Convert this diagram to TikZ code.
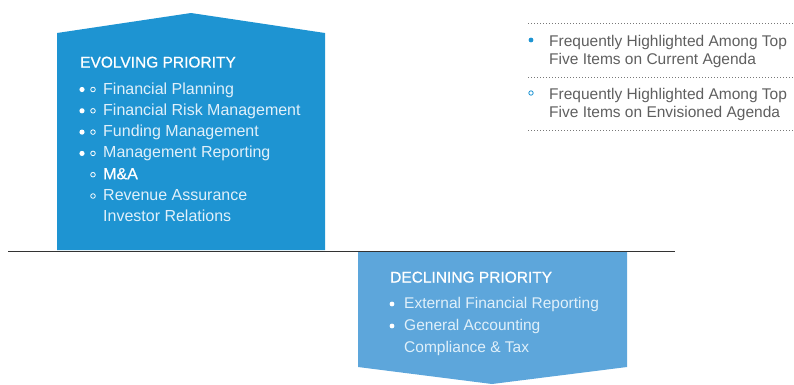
\documentclass[tikz,border=0pt]{standalone}
\usepackage{fontspec}
\setmainfont{Liberation Sans}
\newfontfamily\headfont{Liberation Sans}[BoldFont=Liberation Sans, BoldFeatures={FakeBold=0.6}]

\definecolor{evolveblue}{RGB}{30,148,210}
\definecolor{declineblue}{RGB}{93,166,219}
\definecolor{itemwhite}{RGB}{224,240,250}
\definecolor{legendgray}{RGB}{95,95,95}
\definecolor{dotgray}{RGB}{120,120,120}

\begin{document}
\begin{tikzpicture}[x=1pt, y=-1pt,
    titletext/.style={anchor=base west, inner sep=0pt, text=white, font=\fontsize{15.5}{18}\headfont\bfseries},
    itemtext/.style={anchor=base west, inner sep=0pt, text=itemwhite, font=\fontsize{16}{19}\selectfont},
    lowtext/.style={anchor=base west, inner sep=0pt, text=itemwhite, font=\fontsize{15.5}{18}\selectfont},
    legendtext/.style={anchor=base west, inner sep=0pt, text=legendgray, font=\fontsize{15.5}{18}\selectfont},
    fullbullet/.style={fill=#1},
    openbullet/.style={draw=#1, line width=0.8pt},
    legendrule/.style={dotgray, line width=0.6pt, dash pattern=on 0.7pt off 2.3pt}]
    % page size of the reference
    \useasboundingbox (0,0) rectangle (794,384);

    % Evolving priority: block with a roof
    \fill[evolveblue] (57,250) -- (57,33) -- (191,13) -- (325,33) -- (325,250) -- cycle;
    \node[titletext] (evolve) at (80,67.5) {EVOLVING PRIORITY};

    % items on both agendas
    \foreach \txt [count=\i] in {Financial Planning, Financial Risk Management,
        Funding Management, Management Reporting} {
        \pgfmathsetmacro{\yb}{94+21.3*(\i-1)}
        \fill[fullbullet=white] (82,\yb-4.5) circle (2.6pt);
        \draw[openbullet=white] (93,\yb-4.5) circle (2.3pt);
        \node[itemtext] (evolve-\i) at (103,\yb) {\txt};
    }
    % items on envisioned agenda only
    \draw[openbullet=white] (93,174.7) circle (2.3pt);
    \node[itemtext, text=white, font=\fontsize{16}{19}\headfont\bfseries] (evolve-5) at (103,179.2) {M\&A};
    \draw[openbullet=white] (93,196) circle (2.3pt);
    \node[itemtext] (evolve-6) at (103,200.5) {Revenue Assurance};
    \node[itemtext] (evolve-7) at (103,221.8) {Investor Relations};

    % dividing line
    \draw[line width=1pt, black!80] (8,251) -- (675,251);

    % Declining priority: block with a point
    \fill[declineblue] (358,252) -- (627,252) -- (627,367) -- (492,384) -- (358,367) -- cycle;
    \node[titletext] (decline) at (390,282.5) {DECLINING PRIORITY};
    \fill[fullbullet=white] (392,304) circle (2.4pt);
    \node[lowtext] (decline-1) at (404,308.5) {External Financial Reporting};
    \fill[fullbullet=white] (392,326) circle (2.4pt);
    \node[lowtext] (decline-2) at (404,330.5) {General Accounting};
    \node[lowtext] (decline-3) at (404,352.5) {Compliance \& Tax};

    % Legend
    \foreach \y in {23,77,130}
        \draw[legendrule] (528,\y) -- (794,\y);
    \fill[fullbullet=evolveblue] (531,40) circle (2.4pt);
    \node[legendtext] (legend-1a) at (549,46) {Frequently Highlighted Among Top};
    \node[legendtext] (legend-1b) at (549,64) {Five Items on Current Agenda};
    \draw[openbullet=evolveblue] (531,93) circle (2.2pt);
    \node[legendtext] (legend-2a) at (549,99) {Frequently Highlighted Among Top};
    \node[legendtext] (legend-2b) at (549,117) {Five Items on Envisioned Agenda};
\end{tikzpicture}
\end{document}
